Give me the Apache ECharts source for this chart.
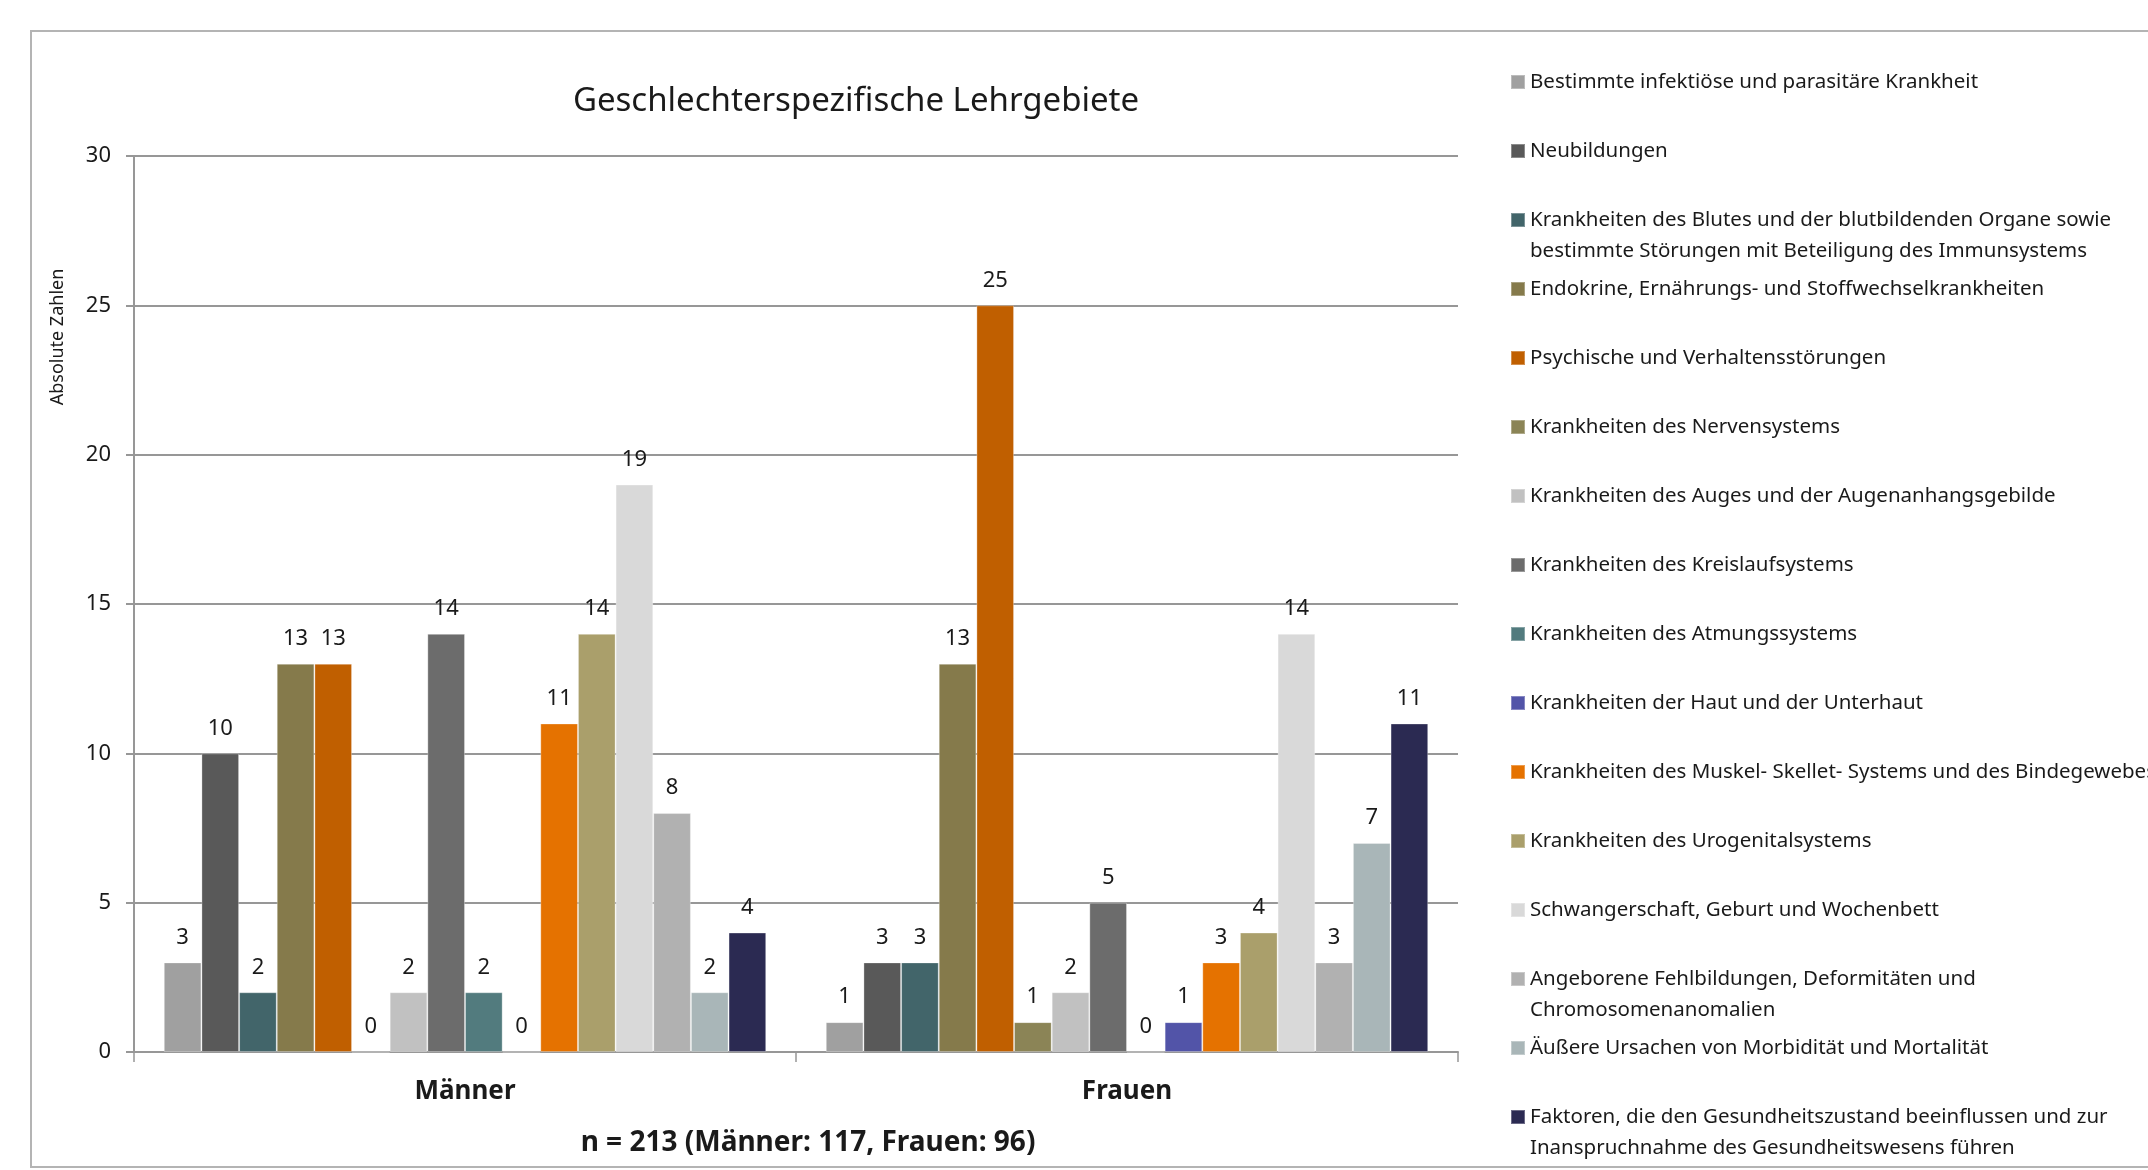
<!DOCTYPE html>
<html>
<head>
<meta charset="utf-8">
<script src="https://cdn.jsdelivr.net/npm/echarts@6/dist/echarts.min.js"></script>
<style>
html,body{margin:0;padding:0;background:#fff;}
#chart{width:2148px;height:1170px;}
</style>
</head>
<body>
<div id="chart"></div>
<script>
const categories = ['Männer', 'Frauen'];
const seriesNames = [
  'Bestimmte infektiöse und parasitäre Krankheit',
  'Neubildungen',
  'Krankheiten des Blutes und der blutbildenden Organe sowie\nbestimmte Störungen mit Beteiligung des Immunsystems',
  'Endokrine, Ernährungs- und Stoffwechselkrankheiten',
  'Psychische und Verhaltensstörungen',
  'Krankheiten des Nervensystems',
  'Krankheiten des Auges und der Augenanhangsgebilde',
  'Krankheiten des Kreislaufsystems',
  'Krankheiten des Atmungssystems',
  'Krankheiten der Haut und der Unterhaut',
  'Krankheiten des Muskel- Skellet- Systems und des Bindegewebes',
  'Krankheiten des Urogenitalsystems',
  'Schwangerschaft, Geburt und Wochenbett',
  'Angeborene Fehlbildungen, Deformitäten und\nChromosomenanomalien',
  'Äußere Ursachen von Morbidität und Mortalität',
  'Faktoren, die den Gesundheitszustand beeinflussen und zur\nInanspruchnahme des Gesundheitswesens führen'
];
const maleValues   = [3, 10, 2, 13, 13, 0, 2, 14, 2, 0, 11, 14, 19, 8, 2, 4];
const femaleValues = [1, 3, 3, 13, 25, 1, 2, 5, 0, 1, 3, 4, 14, 3, 7, 11];
const colors = ['#A0A0A0', '#595959', '#42656A', '#857A4B', '#C05F00', '#8B8456',
  '#C1C1C1', '#6C6C6C', '#527B7E', '#5254A8', '#E57200', '#AA9F6B',
  '#D9D9D9', '#B1B1B1', '#A9B6B8', '#2B2A52'];
const yMin = 0, yMax = 30, yStep = 5;
const titleText = 'Geschlechterspezifische Lehrgebiete';
const yAxisTitle = 'Absolute Zahlen';
const footnote = 'n = 213 (Männer: 117, Frauen: 96)';

const F = "'Noto Sans', sans-serif";
const TXT = '#1a1a1a';
const GRID = '#979797';

const series = seriesNames.map((name, i) => ({
  name: name,
  type: 'bar',
  data: [maleValues[i], femaleValues[i]],
  itemStyle: { color: colors[i], borderColor: 'rgba(255,255,255,0.3)', borderWidth: 1 },
  barGap: '0%',
  barCategoryGap: '9%',
  label: {
    show: true, position: 'top', distance: 14,
    fontFamily: F, fontSize: 22, color: TXT
  }
}));

const LH = 31;
const legends = seriesNames.map((name, i) => {
  const twoLine = name.indexOf('\n') >= 0;
  const rowC = 82 + i * 69;
  return {
    data: [name], orient: 'vertical', left: 1510,
    top: twoLine ? rowC - 1.5 * LH : rowC - LH / 2,
    padding: 0, itemWidth: 14, itemHeight: 14, itemGap: 0, icon: 'rect',
    selectedMode: false,
    formatter: n => (twoLine ? ' \n' + n : n),
    textStyle: { fontFamily: F, fontSize: 20.5, color: TXT, lineHeight: LH }
  };
});

const chart = echarts.init(document.getElementById('chart'), null, { renderer: 'canvas' });
chart.setOption({
  animation: false,
  backgroundColor: '#fff',
  title: [{
    text: titleText, left: 856, top: 85, textAlign: 'center', padding: 0,
    textStyle: { fontFamily: F, fontSize: 33, fontWeight: 'normal', color: TXT }
  }],
  legend: legends,
  grid: { left: 134, right: 690, top: 156, bottom: 118, containLabel: false },
  xAxis: {
    type: 'category', data: categories,
    axisLine: { show: true, lineStyle: { color: GRID, width: 2 } },
    axisTick: { show: true, alignWithLabel: false, length: 10, lineStyle: { color: GRID, width: 1.5 } },
    axisLabel: { fontFamily: F, fontSize: 26, fontWeight: 'bold', color: TXT, margin: 27 },
    splitLine: { show: false }
  },
  yAxis: {
    type: 'value', min: yMin, max: yMax, interval: yStep,
    axisLine: { show: true, lineStyle: { color: GRID, width: 2 } },
    axisTick: { show: true, length: 8, lineStyle: { color: GRID, width: 2 } },
    axisLabel: { fontFamily: F, fontSize: 22, color: TXT, margin: 23 },
    splitLine: { show: true, lineStyle: { color: GRID, width: 2 } }
  },
  series: series,
  graphic: [
    { type: 'rect', silent: true, z: -10,
      shape: { x: 31, y: 31, width: 2300, height: 1136 },
      style: { fill: null, stroke: '#b4b4b4', lineWidth: 2 } },
    { type: 'text', x: 58, y: 337, rotation: Math.PI / 2,
      style: { text: yAxisTitle, fontFamily: F, fontSize: 18, fill: TXT, align: 'center', verticalAlign: 'middle' } },
    { type: 'text', x: 808, y: 1143,
      style: { text: footnote, fontFamily: F, fontSize: 28, fontWeight: 'bold', fill: TXT, align: 'center', verticalAlign: 'middle' } }
  ]
});
</script>
</body>
</html>
